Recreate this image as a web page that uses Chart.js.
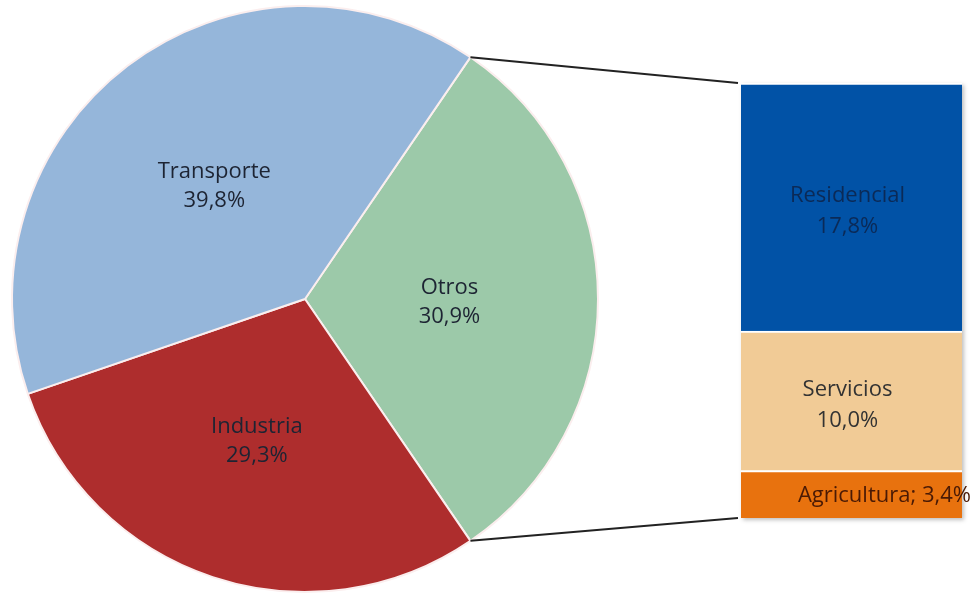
<!DOCTYPE html>
<html lang="es">
<head>
  <meta charset="UTF-8">
  <title>Consumo de energía</title>
  <script src="https://cdn.jsdelivr.net/npm/chart.js"></script>
  <style>
    body { margin: 0; padding: 0; background: #fff; }
    .stage { position: relative; width: 973px; height: 594px; }
    .layer { position: absolute; left: 0; top: 0; }
    #pieBox { width: 610px; height: 594px; }
    #barBox { width: 973px; height: 594px; }
  </style>
</head>
<body>

<div class="stage">
  <div class="layer" id="pieBox"><canvas id="pieChart"></canvas></div>
  <div class="layer" id="barBox"><canvas id="barChart"></canvas></div>
</div>

<script>
  // pie: Otros first so it can be centred on the right side
  const pieLabels = ["Otros", "Industria", "Transporte"];
  const pieValues = [30.9, 29.3, 39.8];
  const pieColors = ["#9cc9a9", "#ae2d2d", "#95b6da"];

  // breakdown of "Otros", bottom to top
  const barLabels = ["Agricultura", "Servicios", "Residencial"];
  const barValues = [3.4, 10.0, 17.8];
  const barColors = ["#e8720e", "#f1cb96", "#0152a6"];
  const barTextColors = ["#4a1a05", "#333333", "#0b2a57"];

  const FONT = "22px 'Open Sans', sans-serif";

  function pct(v) {
    return v.toFixed(1).replace(".", ",") + "%";
  }

  const pieTotal = pieValues.reduce((a, b) => a + b, 0);
  const barTotal = barValues.reduce((a, b) => a + b, 0);

  const pieLabelPlugin = {
    id: "pieLabels",
    afterDatasetsDraw(chart) {
      const ctx = chart.ctx;
      const meta = chart.getDatasetMeta(0);
      ctx.save();
      ctx.font = FONT;
      ctx.fillStyle = "#1d2433";
      ctx.textAlign = "center";
      ctx.textBaseline = "middle";
      meta.data.forEach((arc, i) => {
        const p = arc.tooltipPosition();
        ctx.fillText(pieLabels[i], p.x - 2, p.y - 11);
        ctx.fillText(pct(pieValues[i]), p.x - 2, p.y + 18);
      });
      ctx.restore();
    }
  };

  const pieChart = new Chart(document.getElementById("pieChart"), {
    type: "pie",
    data: {
      labels: pieLabels,
      datasets: [{
        data: pieValues,
        backgroundColor: pieColors,
        borderColor: "#fbeeee",
        borderWidth: 2
      }]
    },
    options: {
      responsive: true,
      maintainAspectRatio: false,
      animation: false,
      rotation: 90 - (pieValues[0] / pieTotal) * 180,
      layout: { padding: { top: 5, bottom: 1, left: 2, right: 2 } },
      plugins: { legend: { display: false }, tooltip: { enabled: false } }
    },
    plugins: [pieLabelPlugin]
  });

  const barPlugin = {
    id: "barExtras",
    beforeDatasetsDraw(chart) {
      const ctx = chart.ctx;
      ctx.save();
      ctx.shadowColor = "rgba(0,0,0,0.25)";
      ctx.shadowBlur = 4;
      ctx.shadowOffsetX = 2;
      ctx.shadowOffsetY = 2;
      ctx.fillStyle = "#fff";
      const a = chart.chartArea;
      ctx.fillRect(a.left, a.top, a.right - a.left, a.bottom - a.top);
      ctx.restore();
    },
    afterDatasetsDraw(chart) {
      const ctx = chart.ctx;
      ctx.save();
      ctx.font = FONT;
      ctx.textBaseline = "middle";
      barValues.forEach((v, i) => {
        const bar = chart.getDatasetMeta(i).data[0];
        const cy = (bar.y + bar.base) / 2;
        ctx.fillStyle = barTextColors[i];
        if (i === 0) {
          ctx.textAlign = "right";
          ctx.fillText(barLabels[i] + "; " + pct(v), 971, cy + 1);
        } else {
          ctx.textAlign = "center";
          ctx.fillText(barLabels[i], bar.x - 4, cy - 11);
          ctx.fillText(pct(v), bar.x - 4, cy + 20);
        }
      });

      // connector lines from the "Otros" slice edges to the bar corners
      const arc = pieChart.getDatasetMeta(0).data[0];
      const a = chart.chartArea;
      ctx.strokeStyle = "#222";
      ctx.lineWidth = 2;
      ctx.beginPath();
      ctx.moveTo(arc.x + arc.outerRadius * Math.cos(arc.startAngle), arc.y + arc.outerRadius * Math.sin(arc.startAngle));
      ctx.lineTo(a.left - 3, a.top);
      ctx.moveTo(arc.x + arc.outerRadius * Math.cos(arc.endAngle), arc.y + arc.outerRadius * Math.sin(arc.endAngle));
      ctx.lineTo(a.left - 3, a.bottom);
      ctx.stroke();
      ctx.restore();
    }
  };

  new Chart(document.getElementById("barChart"), {
    type: "bar",
    data: {
      labels: ["Otros"],
      datasets: barValues.map((v, i) => ({
        label: barLabels[i],
        data: [v],
        backgroundColor: barColors[i],
        borderColor: "#ffffff",
        borderWidth: { top: 2, left: 0, right: 0, bottom: 0 },
        borderSkipped: false,
        barPercentage: 1,
        categoryPercentage: 1
      }))
    },
    options: {
      responsive: true,
      maintainAspectRatio: false,
      animation: false,
      layout: { padding: { left: 741, right: 11, top: 83, bottom: 76 } },
      scales: {
        x: { display: false, stacked: true },
        y: { display: false, stacked: true, min: 0, max: barTotal }
      },
      plugins: { legend: { display: false }, tooltip: { enabled: false } }
    },
    plugins: [barPlugin]
  });
</script>
</body>
</html>
